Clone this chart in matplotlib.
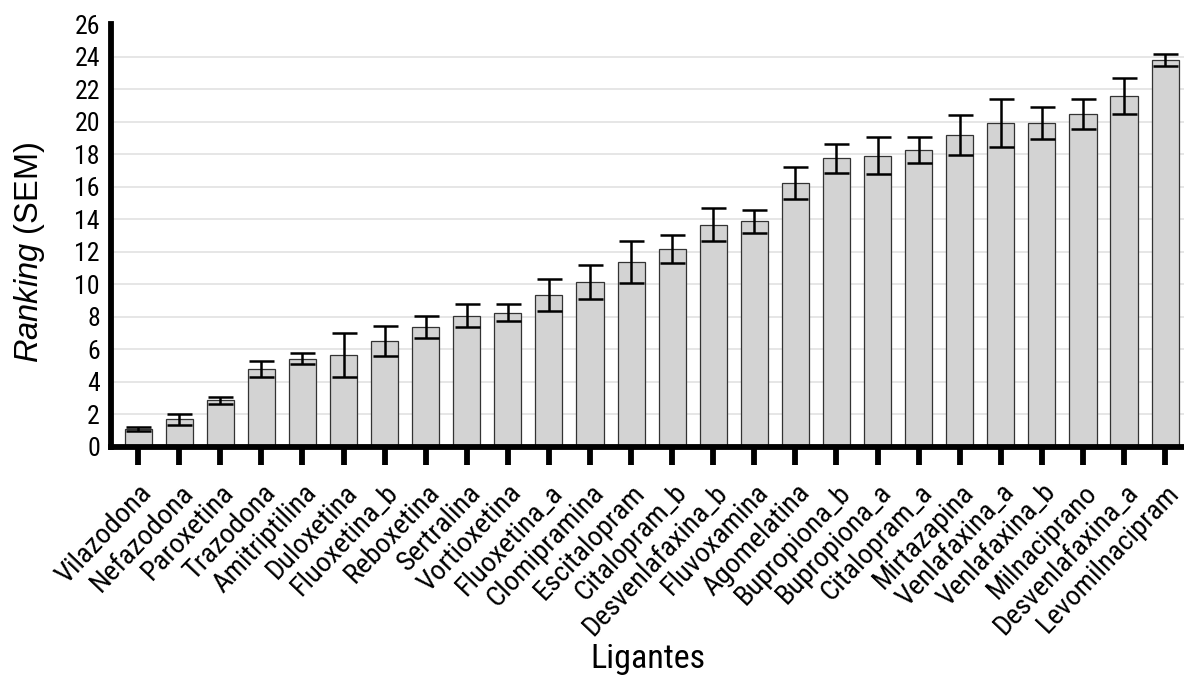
import numpy as np
import matplotlib
matplotlib.use("Agg")
import matplotlib.pyplot as plt

# ranking promedio por ligante y su error estandar
ligantes = ["Vilazodona", "Nefazodona", "Paroxetina", "Trazodona", "Amitriptilina",
            "Duloxetina", "Fluoxetina_b", "Reboxetina", "Sertralina", "Vortioxetina",
            "Fluoxetina_a", "Clomipramina", "Escitalopram", "Citalopram_b",
            "Desvenlafaxina_b", "Fluvoxamina", "Agomelatina", "Bupropiona_b",
            "Bupropiona_a", "Citalopram_a", "Mirtazapina", "Venlafaxina_a",
            "Venlafaxina_b", "Milnaciprano", "Desvenlafaxina_a", "Levomilnacipram"]
ranking = [1.09, 1.70, 2.87, 4.78, 5.43, 5.67, 6.51, 7.36, 8.07, 8.25,
           9.36, 10.14, 11.37, 12.17, 13.66, 13.87, 16.24, 17.74, 17.89, 18.25,
           19.18, 19.93, 19.93, 20.47, 21.57, 23.79]
sem = [0.12, 0.34, 0.23, 0.48, 0.34, 1.35, 0.93, 0.67, 0.70, 0.53,
       0.97, 1.02, 1.28, 0.88, 1.00, 0.72, 0.99, 0.91, 1.14, 0.78,
       1.21, 1.46, 0.99, 0.90, 1.13, 0.38]
yticks = list(range(0, 27, 2))

plt.rcParams['font.family'] = ['Roboto Condensed', 'Liberation Sans', 'DejaVu Sans']
plt.rcParams['mathtext.fontset'] = 'custom'
plt.rcParams['mathtext.it'] = 'Liberation Sans:italic'
plt.rcParams['mathtext.rm'] = 'Liberation Sans'

fig = plt.figure(figsize=(11.84, 6.77), dpi=100)
ax = fig.add_axes([111/1184, 230/677, 1073/1184, 423/677])

x = np.arange(len(ligantes))
ax.bar(x, ranking, width=0.66, color='#d3d3d3', edgecolor='#333333', linewidth=0.9, zorder=2)
ax.errorbar(x, ranking, yerr=sem, fmt='none', ecolor='black', elinewidth=1.8,
            capsize=9, capthick=1.8, zorder=3)

ax.set_xlim(-0.66, 25.46)
ax.set_ylim(0, 26)
ax.set_yticks(yticks)
ax.set_xticks(x)
ax.set_xticklabels(ligantes, rotation=46.5, ha='right', rotation_mode='anchor', fontsize=20.5)
ax.tick_params(axis='y', length=0, pad=8, labelsize=18.5)
ax.tick_params(axis='x', direction='out', length=13, width=4.2, pad=10)

ax.grid(axis='y', color='#e2e2e2', linewidth=1.2, zorder=0)
ax.get_ygridlines()[-1].set_visible(False)
ax.get_ygridlines()[0].set_visible(False)
ax.set_axisbelow(True)

for s in ['top', 'right']:
    ax.spines[s].set_visible(False)
for s in ['left', 'bottom']:
    ax.spines[s].set_linewidth(4.2)

ax.set_ylabel(r'$\mathit{Ranking}$ (SEM)', family='Liberation Sans', fontsize=23.5)
ax.yaxis.set_label_coords(-0.06, 0.46)
ax.set_xlabel('Ligantes', fontsize=24.5)
ax.xaxis.set_label_coords(0.5, -0.463)

fig.savefig('out.png', dpi=100)
